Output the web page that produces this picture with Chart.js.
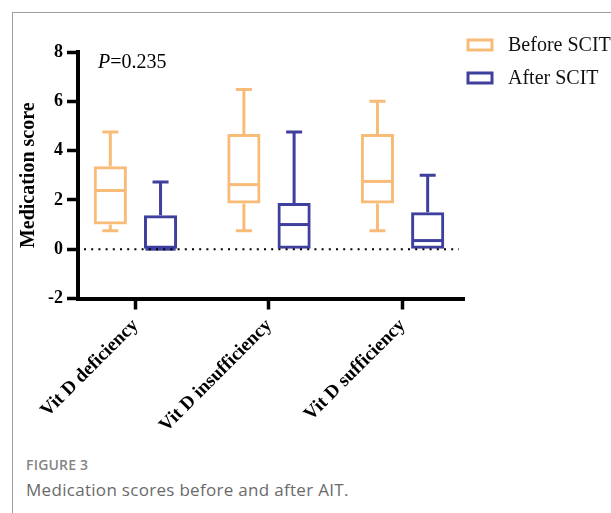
<!DOCTYPE html>
<html>
<head>
<meta charset="utf-8">
<script src="https://cdn.jsdelivr.net/npm/chart.js@4.4.0/dist/chart.umd.min.js"></script>
<style>
  body { margin: 0; background: #fff; }
  #page { position: relative; width: 611px; height: 513px; overflow: hidden; }
  #frame { position: absolute; left: 12px; top: 12px; right: -2px; bottom: -2px;
           border-left: 1px solid #a0a0a0; border-top: 1px solid #a0a0a0; }
  #chart { position: absolute; left: 0; top: 0; }
  .cap { position: absolute; left: 26px; font-family: "Open Sans", sans-serif; margin: 0; white-space: nowrap; }
  #capTitle { top: 455px; font-size: 14px; font-weight: 600; color: #858585; letter-spacing: 0.2px; }
  #capText { top: 478px; font-size: 17px; color: #6a6a6a; letter-spacing: 0.3px; }
</style>
</head>
<body>
<div id="page">
  <div id="frame"></div>
  <canvas id="chart" width="611" height="440"></canvas>
  <p class="cap" id="capTitle">FIGURE 3</p>
  <p class="cap" id="capText">Medication scores before and after AIT.</p>
</div>
<script>
  // Categories and box plot statistics
  const categories = ["Vit D deficiency", "Vit D insufficiency", "Vit D sufficiency"];
  const yTicks = [-2, 0, 2, 4, 6, 8];

  const beforeMin = [0.75, 0.75, 0.75];
  const beforeQ1 = [1.0, 1.85, 1.85];
  const beforeMedian = [2.38, 2.62, 2.75];
  const beforeQ3 = [3.37, 4.67, 4.67];
  const beforeMax = [4.75, 6.48, 6.0];

  const afterMin = [0, 0, 0];
  const afterQ1 = [0, 0, 0];
  const afterMedian = [0, 1.0, 0.35];
  const afterQ3 = [1.38, 1.87, 1.5];
  const afterMax = [2.73, 4.75, 3.0];

  const ORANGE = "#F9BC78";
  const BLUE = "#3F3F9E";
  const SERIF = "'Liberation Serif', 'Times New Roman', serif";

  const stats = [
    { min: beforeMin, q1: beforeQ1, median: beforeMedian, q3: beforeQ3, max: beforeMax },
    { min: afterMin, q1: afterQ1, median: afterMedian, q3: afterQ3, max: afterMax },
  ];

  Chart.defaults.font.family = SERIF;
  Chart.defaults.color = "#000";

  // whiskers, medians, zero line, P value and legend
  const boxExtras = {
    id: "boxExtras",
    afterDatasetsDraw(chart) {
      const ctx = chart.ctx;
      const y = chart.scales.y;
      const area = chart.chartArea;

      ctx.save();
      chart.data.datasets.forEach((ds, d) => {
        const meta = chart.getDatasetMeta(d);
        const s = stats[d];
        ctx.strokeStyle = ds.borderColor;
        ctx.lineWidth = 3;
        ctx.lineCap = "butt";
        meta.data.forEach((bar, i) => {
          const half = bar.width / 2;
          const capHalf = 8;
          // median
          ctx.beginPath();
          ctx.moveTo(bar.x - half + 1.5, y.getPixelForValue(s.median[i]));
          ctx.lineTo(bar.x + half - 1.5, y.getPixelForValue(s.median[i]));
          ctx.stroke();
          // upper whisker
          if (s.max[i] > s.q3[i]) {
            ctx.beginPath();
            ctx.moveTo(bar.x, y.getPixelForValue(s.q3[i]));
            ctx.lineTo(bar.x, y.getPixelForValue(s.max[i]));
            ctx.moveTo(bar.x - capHalf, y.getPixelForValue(s.max[i]));
            ctx.lineTo(bar.x + capHalf, y.getPixelForValue(s.max[i]));
            ctx.stroke();
          }
          // lower whisker
          if (s.min[i] < s.q1[i]) {
            ctx.beginPath();
            ctx.moveTo(bar.x, y.getPixelForValue(s.q1[i]));
            ctx.lineTo(bar.x, y.getPixelForValue(s.min[i]));
            ctx.moveTo(bar.x - capHalf, y.getPixelForValue(s.min[i]));
            ctx.lineTo(bar.x + capHalf, y.getPixelForValue(s.min[i]));
            ctx.stroke();
          }
        });
      });

      // dotted line at zero
      const y0 = y.getPixelForValue(0);
      ctx.strokeStyle = "#000";
      ctx.lineWidth = 2;
      ctx.setLineDash([2, 5.2]);
      ctx.beginPath();
      ctx.moveTo(area.left + 6, y0);
      ctx.lineTo(area.right - 5, y0);
      ctx.stroke();
      ctx.setLineDash([]);

      // P value
      ctx.fillStyle = "#000";
      ctx.textBaseline = "alphabetic";
      ctx.textAlign = "left";
      ctx.font = "italic 20px " + SERIF;
      ctx.fillText("P", 98, 68);
      const pw = ctx.measureText("P").width;
      ctx.font = "20px " + SERIF;
      ctx.fillText("=0.235", 98 + pw, 68);

      // legend
      ctx.font = "20px " + SERIF;
      ctx.textBaseline = "middle";
      chart.data.datasets.forEach((ds, d) => {
        const cy = 45 + d * 33;
        ctx.fillStyle = "#fff";
        ctx.fillRect(468, cy - 5, 24, 10);
        ctx.strokeStyle = ds.borderColor;
        ctx.lineWidth = 3;
        ctx.strokeRect(468, cy - 5, 24, 10);
        ctx.fillStyle = "#111";
        ctx.fillText(ds.label, 508, cy + 1);
      });
      ctx.restore();
    },
  };

  new Chart(document.getElementById("chart"), {
    type: "bar",
    data: {
      datasets: [
        {
          label: "Before SCIT",
          data: beforeQ1.map((q1, i) => ({ x: i, y: [q1, beforeQ3[i]] })),
          backgroundColor: "rgba(255,255,255,0)",
          borderColor: ORANGE,
          borderWidth: 3,
          borderSkipped: false,
        },
        {
          label: "After SCIT",
          data: afterQ1.map((q1, i) => ({ x: i, y: [q1, afterQ3[i]] })),
          backgroundColor: "rgba(255,255,255,0)",
          borderColor: BLUE,
          borderWidth: 3,
          borderSkipped: false,
        },
      ],
    },
    options: {
      responsive: false,
      animation: false,
      devicePixelRatio: 1,
      categoryPercentage: 0.752,
      barPercentage: 0.66,
      layout: { padding: { top: 52, right: 147, left: 0, bottom: 0 } },
      plugins: {
        legend: { display: false },
        tooltip: { enabled: false },
      },
      scales: {
        x: {
          type: "linear",
          min: -0.43,
          max: 2.46,
          offset: false,
          afterBuildTicks: (scale) => {
            scale.ticks = categories.map((c, i) => ({ value: i }));
          },
          afterFit: (scale) => {
            scale.height = 141.5;
          },
          border: { width: 4, color: "#000" },
          grid: {
            offset: false,
            drawOnChartArea: false,
            drawTicks: true,
            tickLength: 11,
            tickWidth: 3.5,
            tickColor: "#000",
          },
          ticks: {
            autoSkip: false,
            minRotation: 45,
            maxRotation: 45,
            padding: 5,
            font: { size: 19, weight: "bold" },
            callback: (value) => categories[value],
          },
        },
        y: {
          min: -2,
          max: 8,
          afterBuildTicks: (scale) => {
            scale.ticks = yTicks.map((v) => ({ value: v }));
          },
          afterFit: (scale) => {
            scale.width = 78;
          },
          border: { width: 4, color: "#000" },
          grid: {
            drawOnChartArea: false,
            drawTicks: true,
            tickLength: 11,
            tickWidth: 3.5,
            tickColor: "#000",
          },
          ticks: {
            padding: 4,
            font: { size: 18, weight: "bold" },
          },
          title: {
            display: true,
            text: "Medication score",
            font: { size: 20, weight: "bold" },
            padding: { top: 17, bottom: 0 },
          },
        },
      },
    },
    plugins: [boxExtras],
  });
</script>
</body>
</html>
